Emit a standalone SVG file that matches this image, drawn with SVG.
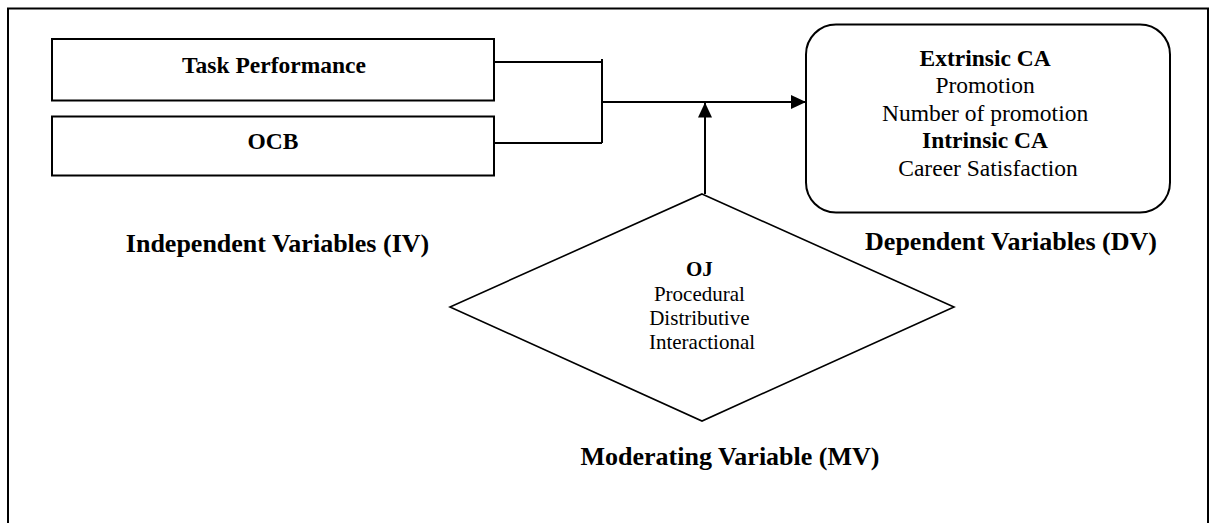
<svg xmlns="http://www.w3.org/2000/svg" width="1210" height="523" viewBox="0 0 1210 523">
<defs>
<style>
.box{fill:#fff;stroke:#000;stroke-width:2}
.ln{fill:none;stroke:#000;stroke-width:2}
.dm{fill:#fff;stroke:#000;stroke-width:1.6}
.t{font-family:"Liberation Serif","Times New Roman",serif;fill:#000;text-anchor:middle}
.b{font-weight:bold}
.s235{font-size:23.5px}
.s21{font-size:21px}
.s26{font-size:26px}
</style>
<marker id="ah" viewBox="0 0 15 14" refX="15" refY="7" markerWidth="15" markerHeight="14" markerUnits="userSpaceOnUse" orient="auto">
<path d="M0,0 L15,7 L0,14 Z" fill="#000"/>
</marker>
</defs>
<rect width="1210" height="523" fill="#fff"/>
<path d="M8,523 V8.5 H1208 V523" class="ln"/>
<g id="connectors">
<path d="M494,62 H602 M602,59 V143 M494,143 H602" class="ln"/>
<path d="M602,102 H806" class="ln" marker-end="url(#ah)"/>
<path d="M705,194 V102.5" class="ln" marker-end="url(#ah)"/>
</g>
<g id="task-performance">
<rect x="52" y="39" width="442" height="61.5" class="box"/>
<text x="274" y="72.5" class="t b s235">Task Performance</text>
</g>
<g id="ocb">
<rect x="52" y="116.5" width="442" height="59" class="box"/>
<text x="273" y="148.5" class="t b s235">OCB</text>
</g>
<g id="dv">
<rect x="806" y="24.5" width="364" height="188" rx="30" ry="30" class="box"/>
<text class="t s235">
<tspan x="988" y="65.5" class="b">Extrinsic CA</tspan>
<tspan x="988" y="93">Promotion</tspan>
<tspan x="988" y="120.5">Number of promotion</tspan>
<tspan x="988" y="148" class="b">Intrinsic CA</tspan>
<tspan x="988" y="176">Career Satisfaction</tspan>
</text>
</g>
<g id="mv">
<polygon points="702,194 954,307 702,421 450,307" class="dm"/>
<text class="t s21">
<tspan x="702" y="276" class="b">OJ</tspan>
<tspan x="702" y="300.5">Procedural</tspan>
<tspan x="702" y="325">Distributive</tspan>
<tspan x="702" y="349">Interactional</tspan>
</text>
</g>
<g id="labels">
<text x="277.5" y="252" class="t b s26">Independent Variables (IV)</text>
<text x="1011" y="250" class="t b s26">Dependent Variables (DV)</text>
<text x="730" y="465" class="t b s26">Moderating Variable (MV)</text>
</g>
</svg>
